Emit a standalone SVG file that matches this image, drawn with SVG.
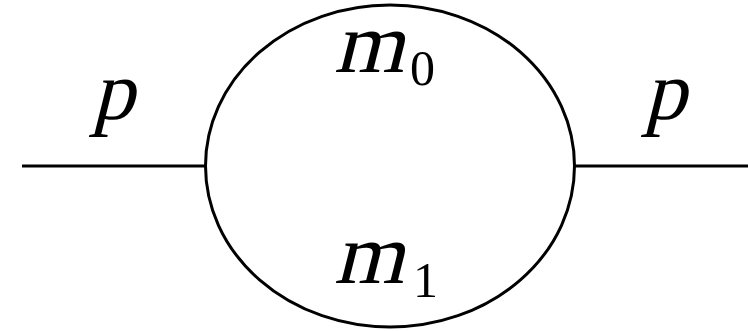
<svg xmlns="http://www.w3.org/2000/svg" width="748" height="331" viewBox="0 0 748 331">
<style>
.ln{stroke:#000;stroke-width:3;fill:none}
.it{font-family:"Liberation Serif",serif;fill:#000}
.rm{font-family:"Liberation Serif",serif;fill:#000}
</style>
<rect width="748" height="331" fill="#fff"/>
<g id="connectors">
<line class="ln" x1="22" y1="166" x2="206" y2="166"/>
<line class="ln" x1="574" y1="166" x2="748" y2="166"/>
</g>
<g id="loop">
<ellipse class="ln" cx="390" cy="166" rx="184.5" ry="161"/>
</g>
<g id="label-p-left"><text class="it" transform="translate(92,119) skewX(-14)" font-size="84">p</text></g>
<g id="label-p-right"><text class="it" transform="translate(644,119) skewX(-14)" font-size="84">p</text></g>
<g id="label-m0"><text class="it" transform="translate(334,72) skewX(-14)" font-size="86" textLength="70" lengthAdjust="spacingAndGlyphs">m</text><text class="rm" x="410" y="85" font-size="50">0</text></g>
<g id="label-m1"><text class="it" transform="translate(334,283) skewX(-14)" font-size="86" textLength="70" lengthAdjust="spacingAndGlyphs">m</text><text class="rm" x="413" y="297" font-size="50">1</text></g>
</svg>
